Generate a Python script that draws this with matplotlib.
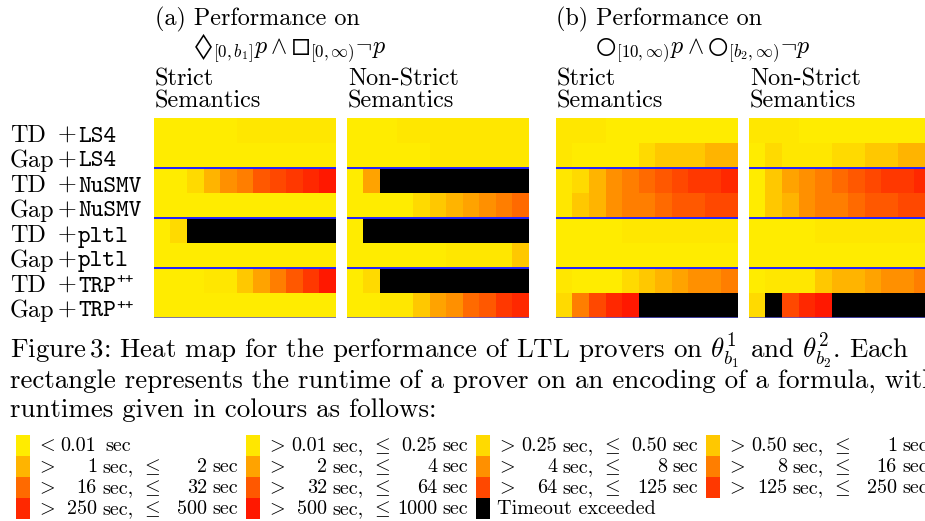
import matplotlib
matplotlib.use('Agg')
import matplotlib.pyplot as plt
from matplotlib.colors import ListedColormap

plt.rcParams['font.family'] = ['cmr10', 'DejaVu Serif']
plt.rcParams['mathtext.fontset'] = 'cm'
plt.rcParams['axes.formatter.use_mathtext'] = True

# runtime level per cell (0 = fastest ... 13 = slowest, 14 = timeout)
T = 14
strict_a = [
    [0, 0, 0, 0, 0, 1, 1, 1, 1, 1, 1],
    [0, 0, 0, 0, 0, 0, 0, 0, 0, 0, 0],
    [0, 0, 2, 4, 6, 7, 9, 10, 11, 12, 13],
    [0, 0, 0, 0, 0, 0, 0, 0, 0, 0, 0],
    [0, 2, T, T, T, T, T, T, T, T, T],
    [0, 0, 0, 0, 0, 0, 0, 0, 0, 0, 0],
    [0, 0, 0, 1, 1, 3, 5, 7, 9, 11, 13],
    [0, 0, 0, 0, 0, 0, 0, 0, 0, 0, 0],
]
nonstrict_a = [
    [0, 0, 0, 1, 1, 1, 1, 1, 1, 1, 1],
    [0, 0, 0, 0, 0, 1, 1, 1, 1, 1, 1],
    [0, 5, T, T, T, T, T, T, T, T, T],
    [0, 0, 0, 0, 2, 3, 4, 5, 6, 7, 8],
    [0, T, T, T, T, T, T, T, T, T, T],
    [0, 0, 0, 0, 0, 0, 1, 1, 1, 1, 3],
    [0, 2, T, T, T, T, T, T, T, T, T],
    [0, 0, 1, 1, 3, 5, 6, 8, 9, 11, 12],
]
strict_b = [
    [1, 1, 1, 0, 0, 0, 0, 0, 0, 0, 0],
    [1, 0, 0, 0, 0, 2, 3, 3, 3, 4, 4],
    [1, 2, 4, 6, 7, 8, 9, 10, 11, 11, 12],
    [1, 3, 4, 6, 7, 7, 8, 9, 9, 10, 10],
    [0, 0, 0, 0, 1, 1, 1, 1, 1, 1, 1],
    [0, 0, 0, 0, 0, 0, 0, 0, 0, 0, 0],
    [1, 0, 0, 0, 2, 3, 4, 5, 6, 6, 7],
    [2, 7, 10, 12, 13, T, T, T, T, T, T],
]
nonstrict_b = [
    [1, 1, 1, 0, 0, 0, 0, 0, 0, 0, 0],
    [0, 2, 1, 1, 1, 2, 2, 3, 3, 4, 4],
    [0, 3, 5, 6, 7, 8, 9, 10, 11, 11, 12],
    [0, 3, 4, 6, 7, 7, 8, 9, 9, 10, 10],
    [0, 0, 0, 0, 1, 1, 1, 1, 1, 1, 1],
    [0, 0, 0, 0, 0, 0, 0, 0, 0, 0, 0],
    [0, 1, 1, 1, 3, 4, 4, 5, 6, 6, 7],
    [2, T, 10, 12, 13, T, T, T, T, T, T],
]

methods = ['TD', 'Gap'] * 4
provers = ['LS4', 'LS4', 'NuSMV', 'NuSMV', 'pltl', 'pltl', 'TRP', 'TRP']
bounds = ['0.01', '0.25', '0.50', '1', '2', '4', '8', '16', '32', '64',
          '125', '250', '500', '1000']
colours = ['#FFEC00', '#FFE700', '#FFDA00', '#FFC800', '#FFB400', '#FFA300',
           '#FF9000', '#FF7E00', '#FF6A00', '#FF5800', '#FF4800', '#FF3800',
           '#FF2800', '#FF1800', '#000000']

W, H = 925, 521
fig = plt.figure(figsize=(W / 100, H / 100), dpi=100)

# overlay in pixel coordinates for all the text and the legend
ov = fig.add_axes([0, 0, 1, 1])
ov.set_xlim(0, W)
ov.set_ylim(H, 0)
ov.axis('off')

cmap = ListedColormap(colours)
panels = [strict_a, nonstrict_a, strict_b, nonstrict_b]
lefts = [154, 347, 556, 749]
top, pw, ph = 118, 182, 200

for data, left in zip(panels, lefts):
    ax = fig.add_axes([left / W, 1 - (top + ph) / H, pw / W, ph / H])
    ax.imshow(data, cmap=cmap, vmin=-0.5, vmax=14.5, aspect='auto',
              interpolation='nearest')
    for y in [1.5, 3.5, 5.5]:
        ax.axhline(y, color='#2020ff', lw=1.4)
    ax.axhline(7.5, color='#5555d0', lw=1.8)
    ax.axis('off')

# panel headings
fs = 17.4
ov.text(155, 25, '(a) Performance on', fontsize=fs, va='baseline')
ov.text(193, 53, r'$◊_{[0,b_1]}p \wedge ◻_{[0,\infty)}\neg p$',
        fontsize=fs, va='baseline')
ov.text(556, 25, '(b) Performance on', fontsize=fs, va='baseline')
ov.text(595, 53, r'$○_{[10,\infty)}p \wedge ○_{[b_2,\infty)}\neg p$',
        fontsize=fs, va='baseline')
for left, name in zip(lefts, ['Strict', 'Non-Strict', 'Strict', 'Non-Strict']):
    ov.text(left + 1, 86, name, fontsize=fs, va='baseline')
    ov.text(left + 1, 108, 'Semantics', fontsize=fs, va='baseline')

# row labels
for i, (m, p) in enumerate(zip(methods, provers)):
    yb = top + 25 * (i + 1) - 1.5
    ov.text(10, yb, m, fontsize=fs, va='baseline')
    ov.text(67, yb, '+', fontsize=fs, va='baseline', ha='center')
    ov.text(78, yb, p, fontsize=fs, va='baseline', family='cmtt10')
    if p == 'TRP':
        ov.text(116, yb - 8, '++', fontsize=12, va='baseline', family='cmtt10')

# caption
cap = [r'Figure$\,$3: Heat map for the performance of LTL provers on '
       r'$\theta^1_{b_1}$ and $\theta^2_{b_2}$. Each',
       'rectangle represents the runtime of a prover on an encoding of a formula, with',
       'runtimes given in colours as follows:']
for k, line in enumerate(cap):
    ov.text(10, 358 + 29.5 * k, line, fontsize=19.4, va='baseline')

# legend
lf = 14.5
for i, c in enumerate(colours):
    sx = 16 + 230 * (i % 4)
    sy = 435 + 21 * (i // 4)
    ov.bar(sx, 21, width=14, bottom=sy, color=c, align='edge')
    yc = sy + 11
    if i == 0:
        ov.text(sx + 20, yc, r'$<$', fontsize=lf, va='center')
        ov.text(sx + 44, yc, bounds[0], fontsize=lf, va='center')
        ov.text(sx + 89, yc, 'sec', fontsize=lf, va='center')
    elif i == len(colours) - 1:
        ov.text(sx + 21, yc, 'Timeout exceeded', fontsize=lf, va='center')
    else:
        ov.text(sx + 20, yc, r'$>$', fontsize=lf, va='center')
        ov.text(sx + 81, yc, bounds[i - 1], fontsize=lf, va='center', ha='right')
        ov.text(sx + 86, yc, 'sec,', fontsize=lf, va='center')
        ov.text(sx + 125, yc, r'$\leq$', fontsize=lf, va='center')
        ov.text(sx + 191, yc, bounds[i], fontsize=lf, va='center', ha='right')
        ov.text(sx + 196, yc, 'sec', fontsize=lf, va='center')

fig.savefig('out.png', dpi=100)
